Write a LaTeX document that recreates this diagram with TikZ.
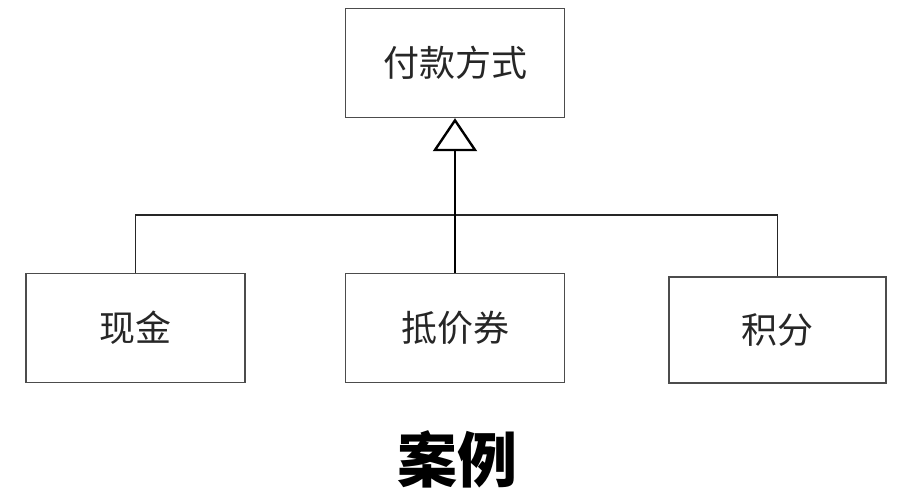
\documentclass[tikz,border=0pt]{standalone}
\usepackage{fontspec}
\newfontfamily\cjk{Noto Sans CJK SC}
\usepackage{tikz}
\usetikzlibrary{arrows.meta}

\tikzset{
  cls/.style={draw=black!70,line width=1.4pt,minimum width=219pt,minimum height=109pt,
    inner sep=0pt,text=black!85,font=\cjk\fontsize{36pt}{40pt}\selectfont},
  link/.style={draw=black!85,line width=1.6pt},
  inherit/.style={draw=black,line width=2.4pt,-{Triangle[open,length=33pt,width=44pt]}}
}

\begin{document}
\begin{tikzpicture}[x=1pt,y=-1pt]
			\useasboundingbox (0,0) rectangle (922,501);
			\node[cls] (pay) at (455,63) {付款方式};
			\node[cls] (cash) at (135.5,328) {现金};
			\node[cls] (voucher) at (455,328) {抵价券};
			\node[cls,minimum width=217pt,minimum height=106pt] (points) at (777.5,330) {积分};
			\coordinate (bar) at (455,215);
			\node[font=\cjk\bfseries\fontsize{60pt}{64pt}\selectfont] (title) at (457,459) {案例};
			
			\draw[link] (cash.north) |- (bar);
			\draw[link] (bar) -| (points.north);
			\draw[inherit] (voucher.north)--(pay.south);
		\end{tikzpicture}
\end{document}
